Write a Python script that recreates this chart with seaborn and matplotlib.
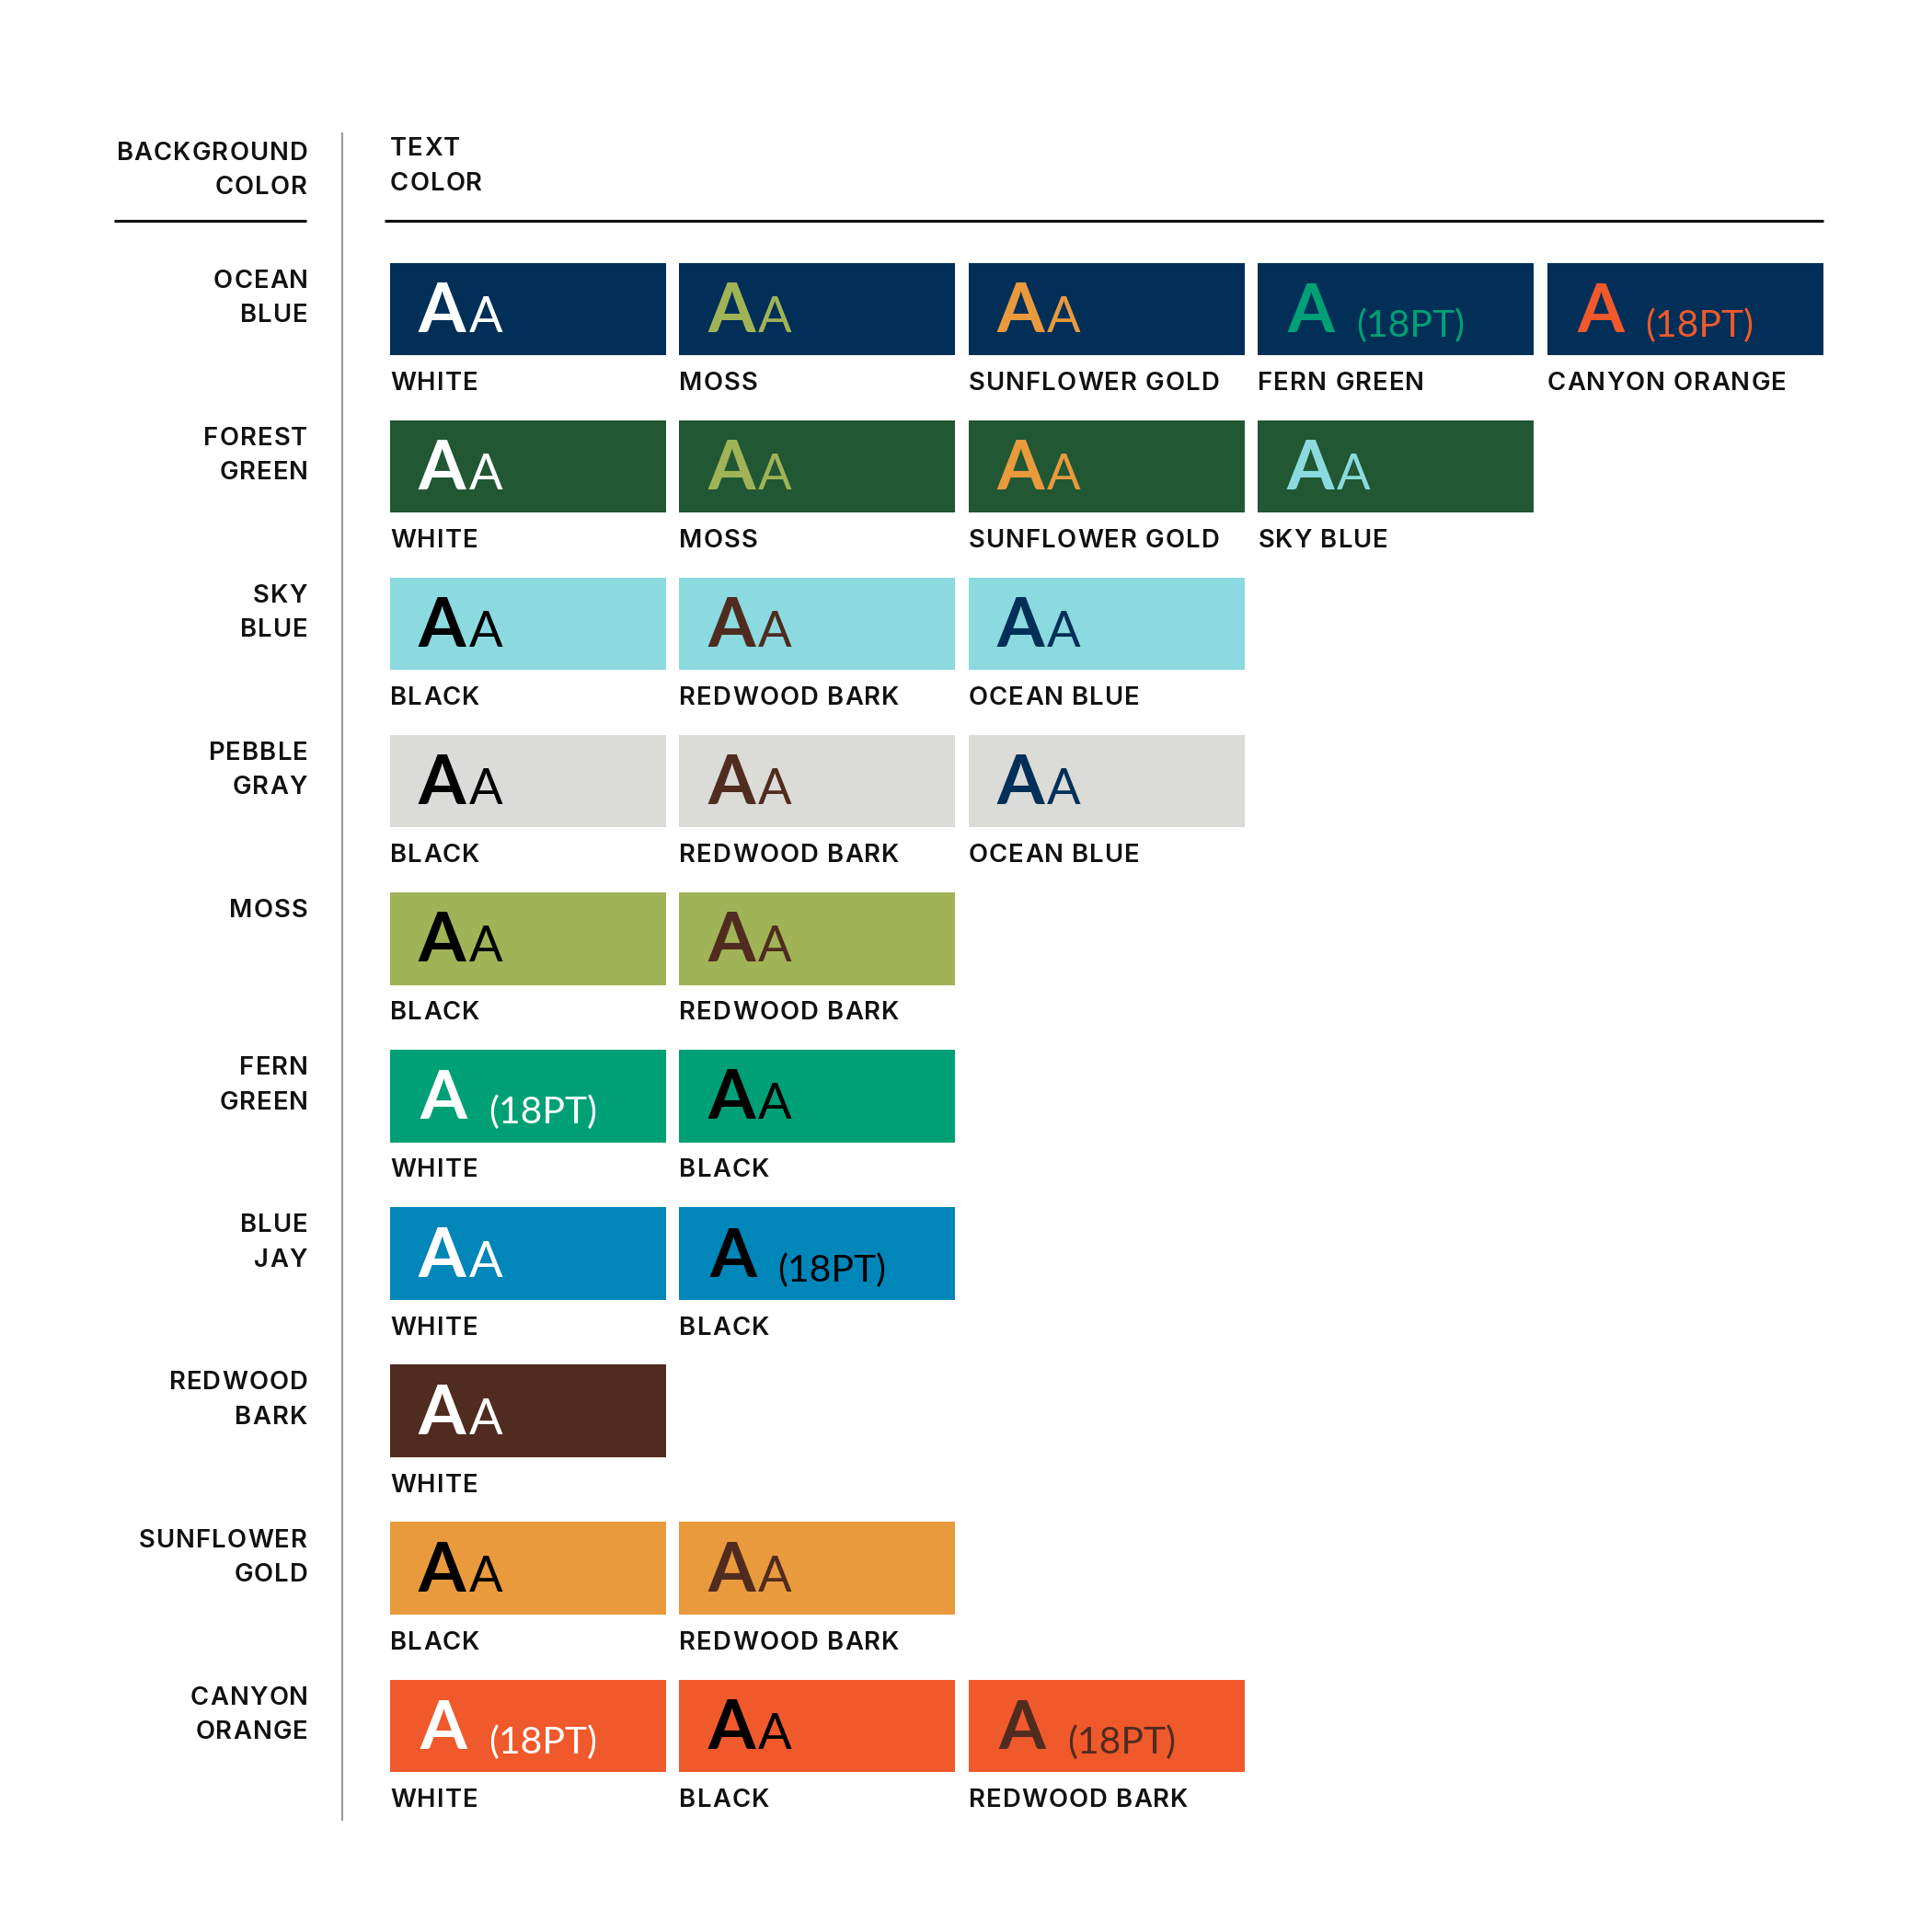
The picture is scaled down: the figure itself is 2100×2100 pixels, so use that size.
import numpy as np
import pandas as pd
import matplotlib.pyplot as plt
import seaborn as sns
from matplotlib.font_manager import FontProperties, findfont
from matplotlib.ft2font import FT2Font

# ── Setup ──────────────────────────────────────────────────────────────────────
sns.set_theme(style='white')
plt.rcParams['font.family'] = ['Lato', 'DejaVu Sans']
LABEL_FONT = ['Inter', 'Lato', 'DejaVu Sans']
DPI = 300

PALETTE = {
    'OCEAN BLUE':     '#012F57',
    'FOREST GREEN':   '#215733',
    'SKY BLUE':       '#8ADADF',
    'PEBBLE GRAY':    '#DBDBD7',
    'MOSS':           '#A0B356',
    'FERN GREEN':     '#00A077',
    'BLUE JAY':       '#0086B9',
    'REDWOOD BARK':   '#4F2C1F',
    'SUNFLOWER GOLD': '#E89A3C',
    'CANYON ORANGE':  '#F0592B',
    'BLACK':          '#000000',
    'WHITE':          '#FFFFFF',
}
INK = '#111111'

# ── Data ───────────────────────────────────────────────────────────────────────
bg_names = ['OCEAN BLUE', 'FOREST GREEN', 'SKY BLUE', 'PEBBLE GRAY', 'MOSS',
            'FERN GREEN', 'BLUE JAY', 'REDWOOD BARK', 'SUNFLOWER GOLD', 'CANYON ORANGE']
row_labels = [['OCEAN', 'BLUE'], ['FOREST', 'GREEN'], ['SKY', 'BLUE'], ['PEBBLE', 'GRAY'],
              ['MOSS'], ['FERN', 'GREEN'], ['BLUE', 'JAY'], ['REDWOOD', 'BARK'],
              ['SUNFLOWER', 'GOLD'], ['CANYON', 'ORANGE']]
text_names = [
    ['WHITE', 'MOSS', 'SUNFLOWER GOLD', 'FERN GREEN', 'CANYON ORANGE'],
    ['WHITE', 'MOSS', 'SUNFLOWER GOLD', 'SKY BLUE'],
    ['BLACK', 'REDWOOD BARK', 'OCEAN BLUE'],
    ['BLACK', 'REDWOOD BARK', 'OCEAN BLUE'],
    ['BLACK', 'REDWOOD BARK'],
    ['WHITE', 'BLACK'],
    ['WHITE', 'BLACK'],
    ['WHITE'],
    ['BLACK', 'REDWOOD BARK'],
    ['WHITE', 'BLACK', 'REDWOOD BARK'],
]
# True = only passes at large size (18pt)
large_only = [
    [False, False, False, True, True],
    [False, False, False, False],
    [False, False, False],
    [False, False, False],
    [False, False],
    [True, False],
    [False, True],
    [False],
    [False, False],
    [True, False, True],
]

records = []
for r, (bg, texts, flags) in enumerate(zip(bg_names, text_names, large_only)):
    for c, (t, f) in enumerate(zip(texts, flags)):
        records.append({'row': r, 'col': c, 'bg': bg, 'text': t, 'large': f})
df = pd.DataFrame(records)

# ── Layout (grid units: 1 col = 314.4 px, 1 row = 171.1 px) ─────────────────────
X0, XS = 424.0, 314.4
Y0, YS = 285.7, 171.1
px = lambda p: (p - X0) / XS
py = lambda p: (p - Y0) / YS
SW_W, SW_H = 300.0 / XS, 100.5 / YS

fig = plt.figure(figsize=(7, 7), dpi=DPI)
ax = fig.add_axes([0, 0, 1, 1])
ax.set_xlim(px(0), px(2100))
ax.set_ylim(py(2100), py(0))
ax.axis('off')

# ── Letter-spaced label text ──────────────────────────────────────────────────
LBL = 6.6
TRACK = 1.1   # extra px between letters
LBL_FP = FontProperties(family=LABEL_FONT, weight='semibold', size=LBL)
_ft = FT2Font(findfont(LBL_FP))
_ft.set_size(LBL, DPI)
_glyphs = {}


def glyph(ch):
    if ch not in _glyphs:
        g = _ft.load_char(ord(ch))
        _glyphs[ch] = (g.linearHoriAdvance / 65536.0, g.horiBearingX / 64.0, g.width / 64.0)
    return _glyphs[ch]


def tracked(x, y, s, ha='left'):
    pen, pens = 0.0, []
    for ch in s:
        pens.append(pen)
        pen += glyph(ch)[0] + TRACK
    _, last_lsb, last_w = glyph(s[-1])
    ink_end = pens[-1] + last_lsb + last_w
    start = x - ink_end / XS if ha == 'right' else x
    for ch, off in zip(s, pens):
        if ch != ' ':
            ax.text(start + off / XS, y, ch, color=INK, fontproperties=LBL_FP,
                    va='baseline', ha='left')


# ── Swatches ──────────────────────────────────────────────────────────────────
for bg, grp in df.groupby('bg', sort=False):
    ax.barh(grp['row'], SW_W, left=grp['col'], height=SW_H, align='edge',
            color=PALETTE[bg], linewidth=0)

for _, d in df.iterrows():
    c, r = d['col'], d['row']
    tc = PALETTE[d['text']]
    if d['large']:
        ax.text(c + 0.104, r + 0.440, 'A', color=tc, fontsize=17.6,
                fontweight='bold', va='baseline', ha='left')
        ax.text(c + 0.340, r + 0.469, '(18PT)', color=tc, fontsize=9.8,
                fontweight='normal', va='baseline', ha='left')
    else:
        ax.text(c + 0.098, r + 0.440, 'A', color=tc, fontsize=17.8,
                fontweight='bold', va='baseline', ha='left')
        ax.text(c + 0.272, r + 0.440, 'A', color=tc, fontsize=13,
                fontweight='normal', va='baseline', ha='left')
    tracked(c, r + 0.808, d['text'])

# ── Row labels ────────────────────────────────────────────────────────────────
for r, lines in enumerate(row_labels):
    for k, line in enumerate(lines):
        tracked(px(333.3), r + 0.158 + k * 0.218, line, ha='right')

# ── Headers and rules ─────────────────────────────────────────────────────────
tracked(px(333.3), py(174.3), 'BACKGROUND', ha='right')
tracked(px(333.3), py(211.0), 'COLOR', ha='right')
tracked(px(424), py(169.3), 'TEXT')
tracked(px(424), py(207.3), 'COLOR')

ax.plot([px(124), px(333.3)], [py(240), py(240)], color='#111111', lw=0.75,
        solid_capstyle='butt')
ax.plot([px(418.3), px(1982)], [py(240), py(240)], color='#111111', lw=0.75,
        solid_capstyle='butt')
ax.plot([px(371.7), px(371.7)], [py(144), py(1979.5)], color='#9A9A9A', lw=0.5,
        solid_capstyle='butt')

fig.savefig('out.png', dpi=DPI, facecolor='white')
plt.close(fig)
